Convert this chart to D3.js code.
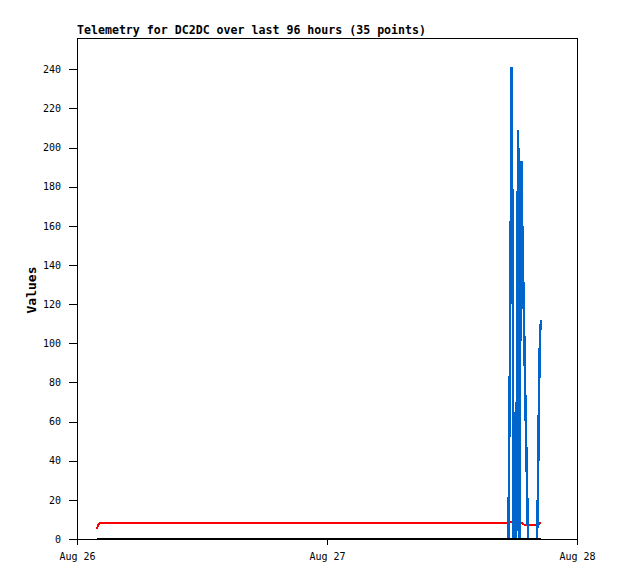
<!DOCTYPE html>
<html>
<head>
<meta charset="utf-8">
<script src="https://cdn.jsdelivr.net/npm/d3@7"></script>
<style>
  body { margin: 0; background: #fff; }
  text { font-family: "DejaVu Sans Mono", monospace; }
</style>
</head>
<body>
<div id="chart"></div>
<script>
// sample times (shared by all three series)
var times = [
  "08-26 01:55", "08-26 02:01", "08-26 02:15",
  "08-27 17:20", "08-27 17:25", "08-27 17:34", "08-27 17:44", "08-27 17:50",
  "08-27 17:55", "08-27 17:58", "08-27 18:02", "08-27 18:06", "08-27 18:10",
  "08-27 18:16", "08-27 18:21", "08-27 18:26", "08-27 18:29", "08-27 18:33",
  "08-27 18:39", "08-27 18:46", "08-27 18:55", "08-27 19:03", "08-27 19:12",
  "08-27 19:18", "08-27 19:24", "08-27 19:29", "08-27 19:41", "08-27 19:52",
  "08-27 20:04", "08-27 20:10", "08-27 20:15", "08-27 20:21", "08-27 20:27",
  "08-27 20:30", "08-27 20:34"
];

var blueValues = [
  0, 0, 0,
  0, 0, 97, 241, 120,
  0, 65, 0, 33, 0,
  137, 209, 137, 0, 97,
  193, 152, 110, 69, 28,
  0, 0, 0, 0, 0,
  0, 0, 25, 73, 105,
  109, 112
];

var redValues = [
  5.0, 7.0, 8.3,
  8.3, 8.5, 8.5, 8.5, 8.3,
  8.3, 8.3, 8.3, 8.3, 8.3,
  8.3, 8.3, 8.3, 8.3, 8.3,
  8.3, 8.0, 7.4, 7.1, 7.1,
  7.1, 7.1, 7.1, 7.1, 7.1,
  7.1, 7.1, 7.3, 7.6, 8.0,
  8.3, 8.3
];

var blackValues = times.map(function() { return 0; });

var yTicks = [0, 20, 40, 60, 80, 100, 120, 140, 160, 180, 200, 220, 240];
var xTicks = ["08-26 00:00", "08-27 00:00", "08-28 00:00"];

var parse = d3.timeParse("%m-%d %H:%M");

var width = 618, height = 579;
var plotLeft = 77, plotRight = 577, plotTop = 38, plotBottom = 539;

var svg = d3.select("#chart").append("svg")
  .attr("width", width)
  .attr("height", height);

var x = d3.scaleTime()
  .domain([parse("08-26 00:00"), parse("08-28 00:00")])
  .range([plotLeft, plotRight]);

var y = d3.scaleLinear()
  .domain([0, 256])
  .range([plotBottom, plotTop]);

// title
svg.append("text")
  .attr("x", plotLeft)
  .attr("y", 34)
  .style("font-size", "11.6px")
  .style("font-weight", "bold")
  .text("Telemetry for DC2DC over last 96 hours (35 points)");

// y axis title
svg.append("text")
  .attr("transform", "translate(36,290) rotate(-90)")
  .attr("text-anchor", "middle")
  .style("font-size", "13px")
  .style("font-weight", "bold")
  .text("Values");

// frame
svg.append("rect")
  .attr("x", plotLeft + 0.5)
  .attr("y", plotTop + 0.5)
  .attr("width", plotRight - plotLeft)
  .attr("height", plotBottom - plotTop)
  .attr("fill", "none")
  .attr("stroke", "#000")
  .attr("shape-rendering", "crispEdges");

// axes
var yAxis = svg.append("g")
  .attr("transform", "translate(" + plotLeft + ",0)")
  .call(d3.axisLeft(y).tickValues(yTicks).tickSize(8).tickPadding(8));

var xAxis = svg.append("g")
  .attr("transform", "translate(0," + plotBottom + ")")
  .call(d3.axisBottom(x)
    .tickValues(xTicks.map(parse))
    .tickSize(6).tickPadding(8)
    .tickFormat(d3.timeFormat("%b %d")));

[yAxis, xAxis].forEach(function(a) {
  a.select(".domain").remove();
  a.selectAll("line").attr("shape-rendering", "crispEdges");
  a.selectAll("text")
    .style("font-family", "'DejaVu Sans Mono', monospace")
    .style("font-size", "10px")
    .attr("fill", "#000");
});

// series lines
function drawLine(vals, color, w) {
  var pts = times.map(function(t, i) { return [parse(t), vals[i]]; });
  svg.append("path")
    .datum(pts)
    .attr("fill", "none")
    .attr("stroke", color)
    .attr("stroke-width", w)
    .attr("shape-rendering", "crispEdges")
    .attr("d", d3.line()
      .x(function(d) { return x(d[0]); })
      .y(function(d) { return y(d[1]); }));
}

drawLine(redValues, "#ff0000", 2);
drawLine(blueValues, "#0066cc", 2.5);
drawLine(blackValues, "#000000", 2);
</script>
</body>
</html>
